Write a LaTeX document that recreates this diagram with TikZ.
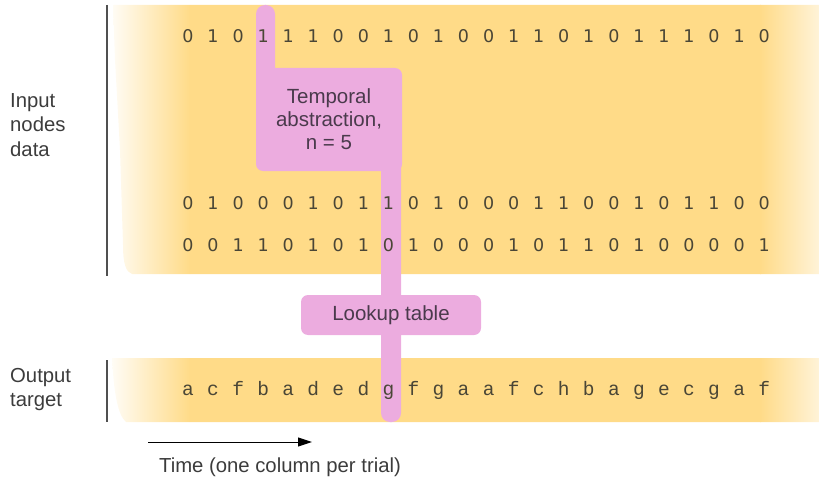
\documentclass[tikz,border=0pt]{standalone}
\usepackage{fontspec}
\setmainfont{Liberation Sans}
\newfontfamily\digitfont{DejaVu Sans}
\newfontfamily\letterfont{Liberation Mono}
\usetikzlibrary{arrows.meta}

\definecolor{band}{HTML}{FFDB88}
\definecolor{bandend}{HTML}{FFF3D8}
\definecolor{hilite}{HTML}{ECACDF}
\definecolor{labeltext}{HTML}{3C3C3C}
\definecolor{digittext}{HTML}{4A4636}
\definecolor{boxtext}{HTML}{4A3A4C}
\definecolor{rule}{HTML}{505050}

\tikzset{
  sidelabel/.style={anchor=north west, align=left, text=labeltext,
    font=\fontsize{20.3}{24.5}\selectfont, inner sep=0pt},
  bit/.style={anchor=base, text=digittext, font=\digitfont\fontsize{17.5}{18}\selectfont, inner sep=0pt},
  sym/.style={anchor=base, text=digittext, font=\letterfont\fontsize{19.5}{20}\selectfont, inner sep=0pt},
  hibox/.style={fill=hilite, rounded corners=7pt, text=boxtext, align=center,
    font=\fontsize{20.5}{23}\selectfont, inner sep=0pt},
  hibar/.style={fill=hilite, rounded corners=9pt},
  sideline/.style={draw=rule, line width=1.3pt},
}

\newcommand{\bitrow}[3]{% baseline y, name prefix, list of symbols
  \foreach \v [count=\i from 0] in {#3}
    \node[bit] (#2\i) at (188+25.05*\i, #1) {\v};
}

\begin{document}
\begin{tikzpicture}[x=1pt, y=-1pt]
\useasboundingbox (0,0) rectangle (819,484);

% input band with faded ends
\begin{scope}
  \clip (113,5) -- (819,5) -- (819,274) -- (132,274)
        .. controls (126,272) and (123,264) .. (123,245)
        -- (120,150) -- (115,60) -- cycle;
  \shade[left color=white, right color=band] (105,0) rectangle (190,280);
  \fill[band] (189.5,0) rectangle (760.5,280);
  \shade[left color=band, right color=bandend] (760,0) rectangle (819,280);
\end{scope}

% output band with faded ends
\begin{scope}
  \clip (112,358) -- (819,358) -- (819,422) -- (126,422)
        .. controls (118,415) and (114,395) .. (112,358);
  \shade[left color=white, right color=band] (105,350) rectangle (190,430);
  \fill[band] (189.5,350) rectangle (760.5,430);
  \shade[left color=band, right color=bandend] (760,350) rectangle (819,430);
\end{scope}

% highlighted columns and their boxes
\fill[hibar] (256,5) rectangle (275,100);
\fill[hibar] (381,150) rectangle (401,422);
\node[hibox, minimum width=146pt, minimum height=103pt] (abs) at (329,119.5)
  {Temporal\\abstraction,\\n = 5};
\node[hibox, minimum width=180pt, minimum height=40pt] (lut) at (391,315)
  {Lookup table};

% rows of bits
\bitrow{43}{ra}{0,1,0,1,1,1,0,0,1,0,1,0,0,1,1,0,1,0,1,1,1,0,1,0}
\bitrow{209}{rb}{0,1,0,0,0,1,0,1,1,0,1,0,0,0,1,1,0,0,1,0,1,1,0,0}
\bitrow{251}{rc}{0,0,1,1,0,1,0,1,0,1,0,0,0,1,0,1,1,0,1,0,0,0,0,1}

% output symbols
\foreach \v [count=\i from 0] in {a,c,f,b,a,d,e,d,g,f,g,a,a,f,c,h,b,a,g,e,c,g,a,f}
  \node[sym] (out\i) at (188+25.05*\i, 395) {\v};

% side rules and labels
\coordinate (rtop) at (107,5);
\coordinate (rbot) at (107,276);
\draw[sideline] (rtop) -- (rbot);
\coordinate (otop) at (107,360);
\coordinate (obot) at (107,422);
\draw[sideline] (otop) -- (obot);

\node[sidelabel] (inlabel) at (10,93) {Input\\nodes\\data};
\node[sidelabel] (outlabel) at (10,368) {Output\\target};

% time axis
\coordinate (tstart) at (148,442);
\coordinate (tend) at (312,442);
\draw[line width=1pt, -{Stealth[length=14pt, width=9pt, inset=0pt]}] (tstart) -- (tend);
\node[text=labeltext, font=\fontsize{20.3}{22}\selectfont, inner sep=0pt] (timelabel)
  at (280,467) {Time (one column per trial)};
\end{tikzpicture}
\end{document}
